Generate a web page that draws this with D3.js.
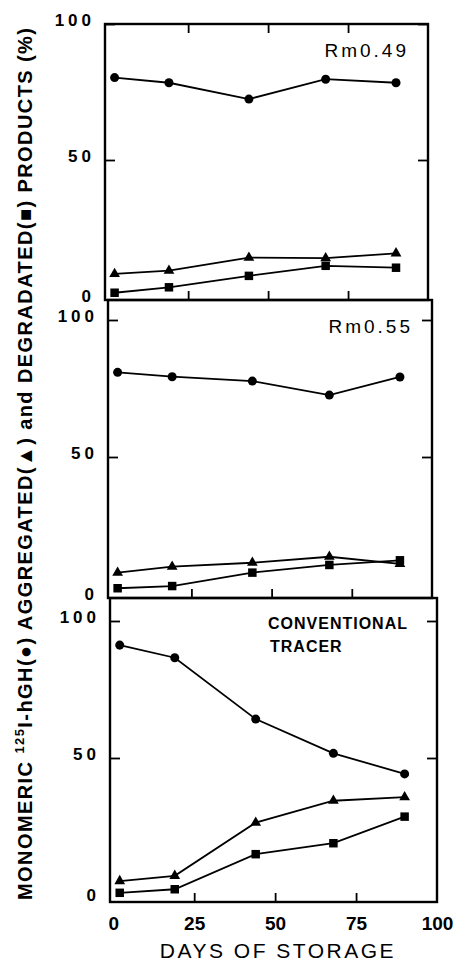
<!DOCTYPE html>
<html>
<head>
<meta charset="utf-8">
<script src="https://cdn.jsdelivr.net/npm/d3@7"></script>
<style>
  body { margin: 0; background: #fff; }
  svg { display: block; font-family: "Liberation Sans", "DejaVu Sans", sans-serif; }
</style>
</head>
<body>
<svg id="chart" width="457" height="961"></svg>
<script>
// Data ------------------------------------------
var days = [2, 19, 44, 68, 90];

var rm049Monomer    = [80.3, 78.4, 72.4, 79.7, 78.4];
var rm049Aggregated = [8.1, 9.3, 14.1, 13.9, 15.7];
var rm049Degraded   = [1.2, 3.2, 7.4, 11.1, 10.4];

var rm055Monomer    = [80.9, 79.3, 77.7, 72.6, 79.2];
var rm055Aggregated = [7.8, 10.0, 11.4, 13.6, 11.0];
var rm055Degraded   = [2.1, 2.9, 7.8, 10.6, 12.3];

var convMonomer    = [91.2, 86.6, 64.2, 51.7, 44.2];
var convAggregated = [5.1, 7.0, 26.4, 34.4, 35.7];
var convDegraded   = [0.8, 2.1, 14.9, 18.9, 28.6];

var xTicks = [0, 25, 50, 75, 100];
var yTicks = [0, 50, 100];
var panelTitles = [["Rm0.49"], ["Rm0.55"], ["CONVENTIONAL", "TRACER"]];

var svg = d3.select("#chart");

// Panels (the scan is a little skewed, so each box sits a bit further right)
var panels = [
  { left: 105, right: 428, top: 24,  bottom: 300, y0: 296, y100: 24,
    series: [rm049Monomer, rm049Aggregated, rm049Degraded] },
  { left: 108, right: 432, top: 300, bottom: 598, y0: 594, y100: 320,
    series: [rm055Monomer, rm055Aggregated, rm055Degraded] },
  { left: 110, right: 437, top: 598, bottom: 902, y0: 895, y100: 621,
    series: [convMonomer, convAggregated, convDegraded] }
];

var symbols = [
  d3.symbol().type(d3.symbolCircle).size(64),
  d3.symbol().type(d3.symbolTriangle).size(50),
  d3.symbol().type(d3.symbolSquare).size(72)
];

panels.forEach(function(p, pi) {
  var x = d3.scaleLinear().domain([-1, 100]).range([p.left, p.right]);
  var y = d3.scaleLinear().domain([0, 100]).range([p.y0, p.y100]);
  var g = svg.append("g");

  // frame
  g.append("rect")
    .attr("x", p.left).attr("y", p.top)
    .attr("width", p.right - p.left).attr("height", p.bottom - p.top)
    .attr("fill", "none").attr("stroke", "#000").attr("stroke-width", 2.4);

  // left axis: inward ticks + spaced labels
  var left = g.append("g")
    .attr("transform", "translate(" + p.left + ",0)")
    .call(d3.axisLeft(y).tickValues(yTicks).tickSize(-10).tickPadding(10));
  left.select(".domain").remove();
  left.selectAll(".tick line").filter(function(d) { return d === 0; }).remove();
  left.selectAll(".tick line").attr("stroke-width", 1.8);
  left.selectAll(".tick text")
    .attr("fill", "#000")
    .attr("font-size", 17)
    .attr("letter-spacing", 4)
    .attr("font-family", "Liberation Sans, sans-serif")
    .attr("font-weight", "bold")
    .attr("dy", function(d) { return d === 0 ? "0.32em" : "0.1em"; });

  // right axis ticks
  var right = g.append("g")
    .attr("transform", "translate(" + p.right + ",0)")
    .call(d3.axisRight(y).tickValues([50, 100]).tickSize(-10).tickFormat(""));
  right.select(".domain").remove();
  right.selectAll(".tick line").attr("stroke-width", 1.8);

  // bottom ticks (pointing up)
  var bottom = g.append("g")
    .attr("transform", "translate(0," + p.bottom + ")")
    .call(d3.axisBottom(x).tickValues(pi === 2 ? xTicks : [25, 50, 75])
      .tickSize(-9).tickPadding(15));
  bottom.select(".domain").remove();
  bottom.selectAll(".tick line")
    .filter(function(d) { return d === 0 || d === 100; }).remove();
  bottom.selectAll(".tick line").attr("stroke-width", 1.8);
  if (pi === 2) {
    bottom.selectAll(".tick text")
      .attr("fill", "#000")
      .attr("font-size", 19)
      .attr("font-weight", "bold")
      .attr("font-family", "Liberation Sans, sans-serif");
  } else {
    bottom.selectAll(".tick text").remove();
  }

  // top ticks on first panel (pointing down)
  if (pi === 0) {
    var top = g.append("g")
      .attr("transform", "translate(0," + p.top + ")")
      .call(d3.axisTop(x).tickValues([25, 50, 75]).tickSize(-9).tickFormat(""));
    top.select(".domain").remove();
    top.selectAll(".tick line").attr("stroke-width", 1.8);
  }

  // series
  var line = d3.line()
    .x(function(d, i) { return x(days[i]); })
    .y(function(d) { return y(d); });

  p.series.forEach(function(values, si) {
    g.append("path")
      .datum(values)
      .attr("d", line)
      .attr("fill", "none")
      .attr("stroke", "#000")
      .attr("stroke-width", 1.8);

    g.selectAll(null)
      .data(values)
      .enter()
      .append("path")
      .attr("d", symbols[si])
      .attr("transform", function(d, i) {
        return "translate(" + x(days[i]) + "," + y(d) + ")";
      })
      .attr("fill", "#000");
  });

  // panel title
  var title = panelTitles[pi];
  if (pi < 2) {
    g.append("text")
      .attr("x", p.right - 22 + 3)
      .attr("y", p.top + 33)
      .attr("text-anchor", "end")
      .attr("font-size", 19)
      .attr("letter-spacing", 3)
      .text(title[0]);
  } else {
    title.forEach(function(t, k) {
      g.append("text")
        .attr("x", p.left + 158 + k * 2)
        .attr("y", p.top + 31 + k * 23)
        .attr("font-size", 16)
        .attr("font-weight", "bold")
        .attr("letter-spacing", 1)
        .text(t);
    });
  }
});

// x axis title
svg.append("text")
  .attr("x", 278)
  .attr("y", 958)
  .attr("text-anchor", "middle")
  .attr("font-size", 21)
  .attr("letter-spacing", 2.5)
  .text("DAYS OF STORAGE");

// y axis title
var yt = svg.append("text")
  .attr("transform", "translate(32,464) rotate(-90)")
  .attr("text-anchor", "middle")
  .attr("font-size", 20)
  .attr("font-weight", "bold")
  .attr("textLength", 872)
  .attr("lengthAdjust", "spacing");
yt.append("tspan").text("MONOMERIC ");
yt.append("tspan").attr("font-size", 13).attr("dy", -8).text("125");
yt.append("tspan").attr("dy", 8).text("I-hGH(\u25CF) AGGREGATED(\u25B2) and DEGRADATED(\u25A0) PRODUCTS (%)");
</script>
</body>
</html>
